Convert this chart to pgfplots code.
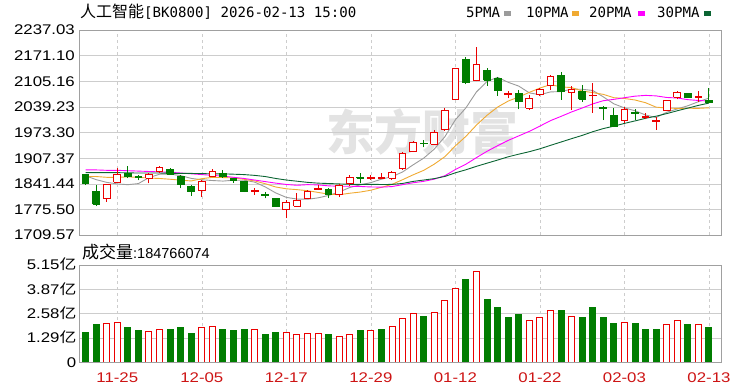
\documentclass[border=0pt]{standalone}
\usepackage{fontspec}
\usepackage{graphicx}
\usepackage{pgfplots}
\pgfplotsset{compat=1.18}
\setmainfont{Liberation Sans}
\newfontfamily\cjk{Noto Sans CJK SC}
\newfontfamily\mono{DejaVu Sans Mono}

\definecolor{kred}{RGB}{235,0,0}
\definecolor{kgreen}{RGB}{0,125,0}
\definecolor{ma5}{RGB}{155,155,155}
\definecolor{ma10}{RGB}{240,170,50}
\definecolor{ma20}{RGB}{255,0,255}
\definecolor{ma30}{RGB}{10,100,50}
\definecolor{gridc}{RGB}{205,205,205}
\definecolor{framec}{RGB}{160,160,160}
\definecolor{xlab}{RGB}{205,20,20}

\newcommand{\sx}[1]{\scalebox{1.2}[1]{#1}}

\pgfplotsset{kax/.style={
  scale only axis, anchor=south west, width=642bp,
  xmin=-0.625, xmax=60.14,
  xtick={3,11,19,27,35,43,51,59},
  xmajorgrids, ymajorgrids,
  major x grid style={gridc, dash pattern=on 3bp off 3bp},
  major y grid style={gridc},
  axis line style={framec},
  tick style={draw=none},
  ticklabel style={font=\fontsize{14bp}{14bp}\selectfont},
  yticklabel style={anchor=base east, inner sep=0pt, xshift=-4bp, yshift=-5bp},
  unbounded coords=jump,
}}

\begin{document}
\begin{tikzpicture}
\path[use as bounding box] (0,0) rectangle (750bp,391bp);

% watermark
\node[text=black!11, font=\cjk\bfseries\fontsize{48bp}{48bp}\selectfont, inner sep=0pt] at (422bp,259bp) {东方财富};

% title and legend
\node[anchor=base west, inner sep=0pt] at (80bp,373bp) {{\cjk\fontsize{16bp}{16bp}\selectfont 人工智能}{\mono\fontsize{14.1bp}{14bp}\selectfont [BK0800] 2026-02-13 15:00}};
\node[anchor=base west, inner sep=0pt, font=\mono\fontsize{14.1bp}{14bp}\selectfont] at (466bp,373bp) {5PMA};
\node[anchor=base west, inner sep=0pt] at (504bp,373bp) {\textcolor{ma5}{\rule[2bp]{7bp}{5bp}}};
\node[anchor=base west, inner sep=0pt, font=\mono\fontsize{14.1bp}{14bp}\selectfont] at (526bp,373bp) {10PMA};
\node[anchor=base west, inner sep=0pt] at (572bp,373bp) {\textcolor{ma10}{\rule[2bp]{7bp}{5bp}}};
\node[anchor=base west, inner sep=0pt, font=\mono\fontsize{14.1bp}{14bp}\selectfont] at (589bp,373bp) {20PMA};
\node[anchor=base west, inner sep=0pt] at (638bp,373bp) {\textcolor{ma20}{\rule[2bp]{7bp}{5bp}}};
\node[anchor=base west, inner sep=0pt, font=\mono\fontsize{14.1bp}{14bp}\selectfont] at (657bp,373bp) {30PMA};
\node[anchor=base west, inner sep=0pt] at (704bp,373bp) {\textcolor{ma30}{\rule[2bp]{7bp}{5bp}}};

\node[anchor=base west, inner sep=0pt] at (82bp,132bp) {{\cjk\fontsize{17bp}{17bp}\selectfont 成交量}{\fontsize{14.5bp}{14bp}\selectfont :184766074}};

% ---------------- price panel ----------------
\begin{axis}[kax, at={(79bp,156bp)}, height=205bp,
  ymin=1709.57, ymax=2237.03,
  ytick={1709.57,1775.50,1841.44,1907.37,1973.30,2039.23,2105.16,2171.10,2237.03},
  yticklabels={\sx{1709.57},\sx{1775.50},\sx{1841.44},\sx{1907.37},\sx{1973.30},\sx{2039.23},\sx{2105.16},\sx{2171.10},\sx{2237.03}},
  xticklabels={,,,,,,,},
]
% 5PMA
\addplot[ma5, line width=0.9bp, mark=none] coordinates {(0,1862)(1,1852)(2,1845)(3,1841)(4,1839)(5,1841.9)(6,1857.3)(7,1865.9)(8,1866.4)(9,1862.4)(10,1855.2)(11,1851.7)(12,1849.7)(13,1848.3)(14,1850.5)(15,1850.5)(16,1845.6)(17,1833.3)(18,1817.8)(19,1806.3)(20,1802.1)(21,1801.5)(22,1805.1)(23,1811.3)(24,1820.1)(25,1831.8)(26,1838.6)(27,1844.4)(28,1853.2)(29,1859.7)(30,1871.7)(31,1890.1)(32,1907.3)(33,1930.5)(34,1962.3)(35,2006)(36,2036.9)(37,2077.9)(38,2104.9)(39,2115.2)(40,2102.4)(41,2092.7)(42,2075.2)(43,2070.5)(44,2077.7)(45,2078.7)(46,2085)(47,2084.5)(48,2081.4)(49,2065)(50,2047)(51,2036.6)(52,2029.3)(53,2018.3)(54,2011.9)(55,2025.3)(56,2033.9)(57,2042.1)(58,2052.5)(59,2061.9)};
% 10PMA
\addplot[ma10, line width=0.9bp, mark=none] coordinates {(0,1860)(1,1860)(2,1858)(3,1858)(4,1859)(5,1858)(6,1856)(7,1855)(8,1853)(9,1850.7)(10,1848.6)(11,1854.5)(12,1857.8)(13,1857.4)(14,1856.5)(15,1852.9)(16,1848.7)(17,1841.5)(18,1833.1)(19,1828.4)(20,1826.3)(21,1823.6)(22,1819.2)(23,1814.6)(24,1813.2)(25,1817)(26,1820.1)(27,1824.8)(28,1832.3)(29,1839.9)(30,1851.8)(31,1864.4)(32,1875.9)(33,1891.9)(34,1911)(35,1938.9)(36,1963.5)(37,1992.6)(38,2017.7)(39,2038.8)(40,2054.2)(41,2064.8)(42,2076.6)(43,2087.7)(44,2096.5)(45,2090.6)(46,2088.9)(47,2079.9)(48,2076)(49,2071.4)(50,2062.9)(51,2060.8)(52,2056.9)(53,2049.9)(54,2038.5)(55,2036.2)(56,2035.3)(57,2035.7)(58,2035.4)(59,2036.9)};
% 20PMA
\addplot[ma20, line width=0.9bp, mark=none] coordinates {(0,1877)(1,1877)(2,1876)(3,1876)(4,1875)(5,1874)(6,1873)(7,1872)(8,1871)(9,1869)(10,1867)(11,1865)(12,1863)(13,1861)(14,1858)(15,1855)(16,1851)(17,1847)(18,1843)(19,1839.6)(20,1837.5)(21,1839.1)(22,1838.5)(23,1836)(24,1834.9)(25,1835)(26,1834.4)(27,1833.2)(28,1832.7)(29,1834.2)(30,1839.1)(31,1844)(32,1847.6)(33,1853.3)(34,1862.1)(35,1878)(36,1891.8)(37,1908.7)(38,1925)(39,1939.4)(40,1953)(41,1964.6)(42,1976.3)(43,1989.8)(44,2003.8)(45,2014.8)(46,2026.2)(47,2036.3)(48,2046.9)(49,2055.1)(50,2058.6)(51,2062.8)(52,2066.8)(53,2068.8)(54,2067.5)(55,2063.4)(56,2062.1)(57,2057.8)(58,2055.7)(59,2054.2)};
% 30PMA
\addplot[ma30, line width=0.9bp, mark=none] coordinates {(0,1870)(1,1870)(2,1870)(3,1870)(4,1869.5)(5,1869)(6,1869)(7,1869)(8,1868.5)(9,1868)(10,1868)(11,1867.5)(12,1867)(13,1867)(14,1866)(15,1865)(16,1863)(17,1860)(18,1855)(19,1851)(20,1848)(21,1845)(22,1843)(23,1842)(24,1841)(25,1840)(26,1840)(27,1840)(28,1839.5)(29,1839.7)(30,1842.2)(31,1847.5)(32,1851)(33,1854.6)(34,1860.2)(35,1869.6)(36,1877.4)(37,1886.3)(38,1894.4)(39,1902.4)(40,1910.8)(41,1917.6)(42,1923.9)(43,1931.4)(44,1940.2)(45,1948.8)(46,1957.5)(47,1965.8)(48,1975.3)(49,1983.4)(50,1989.6)(51,1996.7)(52,2003.1)(53,2009.8)(54,2015.3)(55,2021.9)(56,2029.2)(57,2036.1)(58,2043)(59,2049)};

% wicks (low to high) of rising candles
\addplot[kred, line width=1bp, mark=none] coordinates {(2,1795)(2,1841)(2,nan)(3,1843)(3,1881)(3,nan)(6,1842.6)(6,1870)(6,nan)(7,1868)(7,1888)(7,nan)(11,1808)(11,1851)(11,nan)(12,1858)(12,1878.6)(12,nan)(16,1813)(16,1830)(16,nan)(19,1752.5)(19,1799.6)(19,nan)(20,1783)(20,1818.4)(20,nan)(21,1802)(21,1825)(21,nan)(22,1825)(22,1838)(22,nan)(24,1807)(24,1840)(24,nan)(25,1836)(25,1864)(25,nan)(27,1852)(27,1864)(27,nan)(28,1855)(28,1870)(28,nan)(29,1851)(29,1875)(29,nan)(30,1877)(30,1923)(30,nan)(31,1923)(31,1951)(31,nan)(33,1941)(33,1980)(33,nan)(34,1977)(34,2036)(34,nan)(35,2057)(35,2139)(35,nan)(37,2105)(37,2194)(37,nan)(40,2061)(40,2081)(40,nan)(42,2031)(42,2069.8)(42,nan)(43,2067)(43,2088)(43,nan)(44,2083)(44,2121)(44,nan)(46,2031)(46,2093)(46,nan)(48,2024)(48,2100)(48,nan)(51,1997)(51,2039.7)(51,nan)(53,2007)(53,2023)(53,nan)(54,1980)(54,2014)(54,nan)(55,2031)(55,2056.6)(55,nan)(56,2058.7)(56,2081)(56,nan)(58,2052.6)(58,2079)};
% wicks of falling candles
\addplot[kgreen, line width=1bp, mark=none] coordinates {(0,1838)(0,1866)(0,nan)(1,1784)(1,1838)(1,nan)(4,1856)(4,1887)(4,nan)(5,1850)(5,1864)(5,nan)(8,1865)(8,1881)(8,nan)(9,1829.7)(9,1864)(9,nan)(10,1810)(10,1838)(10,nan)(13,1857)(13,1877)(13,nan)(14,1843)(14,1857)(14,nan)(15,1820)(15,1848)(15,nan)(17,1804)(17,1821)(17,nan)(18,1782)(18,1805)(18,nan)(23,1804)(23,1830)(23,nan)(26,1843)(26,1868)(26,nan)(32,1935)(32,1954)(32,nan)(36,2097)(36,2167)(36,nan)(38,2093)(38,2139)(38,nan)(39,2068)(39,2116)(39,nan)(41,2033)(41,2082.6)(41,nan)(45,2057)(45,2129.8)(45,nan)(47,2052.5)(47,2095.5)(47,nan)(49,2005)(49,2041)(49,nan)(50,1987)(50,2035.6)(50,nan)(52,2005)(52,2032.6)(52,nan)(57,2062)(57,2075)(57,nan)(59,2049)(59,2087)};

% bodies of rising candles (open at bottom, close at top), hollow
\addplot[draw=kred, fill=white, line width=1bp, mark=none] coordinates {
(1.68,1804)(2.32,1804)(2.32,1840)(1.68,1840)(1.68,1804)(2,nan)
(2.68,1845)(3.32,1845)(3.32,1864)(2.68,1864)(2.68,1845)(3,nan)
(5.68,1855.5)(6.32,1855.5)(6.32,1865.7)(5.68,1865.7)(5.68,1855.5)(6,nan)
(6.68,1872.5)(7.32,1872.5)(7.32,1882.7)(6.68,1882.7)(6.68,1872.5)(7,nan)
(10.68,1822.8)(11.32,1822.8)(11.32,1848.5)(10.68,1848.5)(10.68,1822.8)(11,nan)
(11.68,1859.6)(12.32,1859.6)(12.32,1872.5)(11.68,1872.5)(11.68,1859.6)(12,nan)
(15.68,1822)(16.32,1822)(16.32,1824)(15.68,1824)(15.68,1822)(16,nan)
(18.68,1774)(19.32,1774)(19.32,1793.7)(18.68,1793.7)(18.68,1774)(19,nan)
(19.68,1784)(20.32,1784)(20.32,1799.6)(19.68,1799.6)(19.68,1784)(20,nan)
(20.68,1804)(21.32,1804)(21.32,1821)(20.68,1821)(20.68,1804)(21,nan)
(21.68,1826)(22.32,1826)(22.32,1829)(21.68,1829)(21.68,1826)(22,nan)
(23.68,1812.5)(24.32,1812.5)(24.32,1838)(23.68,1838)(23.68,1812.5)(24,nan)
(24.68,1841)(25.32,1841)(25.32,1858)(24.68,1858)(24.68,1841)(25,nan)
(26.68,1855)(27.32,1855)(27.32,1858)(26.68,1858)(26.68,1855)(27,nan)
(27.68,1856)(28.32,1856)(28.32,1857)(27.68,1857)(27.68,1856)(28,nan)
(28.68,1855)(29.32,1855)(29.32,1870.7)(28.68,1870.7)(28.68,1855)(29,nan)
(29.68,1881)(30.32,1881)(30.32,1918)(29.68,1918)(29.68,1881)(30,nan)
(30.68,1924)(31.32,1924)(31.32,1947)(30.68,1947)(30.68,1924)(31,nan)
(32.68,1943.7)(33.32,1943.7)(33.32,1973)(32.68,1973)(32.68,1943.7)(33,nan)
(33.68,1980)(34.32,1980)(34.32,2029.5)(33.68,2029.5)(33.68,1980)(34,nan)
(34.68,2058.7)(35.32,2058.7)(35.32,2136.7)(34.68,2136.7)(34.68,2058.7)(35,nan)
(36.68,2106.6)(37.32,2106.6)(37.32,2148.8)(36.68,2148.8)(36.68,2106.6)(37,nan)
(39.68,2071)(40.32,2071)(40.32,2073)(39.68,2073)(39.68,2071)(40,nan)
(41.68,2035.6)(42.32,2035.6)(42.32,2061.3)(41.68,2061.3)(41.68,2035.6)(42,nan)
(42.68,2069.8)(43.32,2069.8)(43.32,2084.4)(42.68,2084.4)(42.68,2069.8)(43,nan)
(43.68,2093)(44.32,2093)(44.32,2117)(43.68,2117)(43.68,2093)(44,nan)
(45.68,2075.6)(46.32,2075.6)(46.32,2084.4)(45.68,2084.4)(45.68,2075.6)(46,nan)
(47.68,2068)(48.32,2068)(48.32,2069)(47.68,2069)(47.68,2068)(48,nan)
(50.68,2005)(51.32,2005)(51.32,2032.6)(50.68,2032.6)(50.68,2005)(51,nan)
(52.68,2012)(53.32,2012)(53.32,2014)(52.68,2014)(52.68,2012)(53,nan)
(53.68,2001)(54.32,2001)(54.32,2003)(53.68,2003)(53.68,2001)(54,nan)
(54.68,2031)(55.32,2031)(55.32,2055)(54.68,2055)(54.68,2031)(55,nan)
(55.68,2063.8)(56.32,2063.8)(56.32,2075.7)(55.68,2075.7)(55.68,2063.8)(56,nan)
(57.68,2064)(58.32,2064)(58.32,2066)(57.68,2066)(57.68,2064)
};
% bodies of falling candles (close at bottom, open at top), filled
\addplot[draw=kgreen, fill=kgreen, line width=1bp, mark=none] coordinates {
(-0.32,1842.5)(0.32,1842.5)(0.32,1864)(-0.32,1864)(-0.32,1842.5)(0,nan)
(0.68,1788.5)(1.32,1788.5)(1.32,1821)(0.68,1821)(0.68,1788.5)(1,nan)
(3.68,1860)(4.32,1860)(4.32,1868)(3.68,1868)(3.68,1860)(4,nan)
(4.68,1857)(5.32,1857)(5.32,1859)(4.68,1859)(4.68,1857)(5,nan)
(7.68,1866.5)(8.32,1866.5)(8.32,1878.6)(7.68,1878.6)(7.68,1866.5)(8,nan)
(8.68,1840)(9.32,1840)(9.32,1859.6)(8.68,1859.6)(8.68,1840)(9,nan)
(9.68,1821)(10.32,1821)(10.32,1835.6)(9.68,1835.6)(9.68,1821)(10,nan)
(12.68,1859.6)(13.32,1859.6)(13.32,1868.3)(12.68,1868.3)(12.68,1859.6)(13,nan)
(13.68,1851)(14.32,1851)(14.32,1855)(13.68,1855)(13.68,1851)(14,nan)
(14.68,1821)(15.32,1821)(15.32,1846.8)(14.68,1846.8)(14.68,1821)(15,nan)
(16.68,1811)(17.32,1811)(17.32,1813)(16.68,1813)(16.68,1811)(17,nan)
(17.68,1782)(18.32,1782)(18.32,1804)(17.68,1804)(17.68,1782)(18,nan)
(22.68,1813)(23.32,1813)(23.32,1827)(22.68,1827)(22.68,1813)(23,nan)
(25.68,1855)(26.32,1855)(26.32,1858)(25.68,1858)(25.68,1855)(26,nan)
(31.68,1944)(32.32,1944)(32.32,1946)(31.68,1946)(31.68,1944)(32,nan)
(35.68,2101.4)(36.32,2101.4)(36.32,2162.4)(35.68,2162.4)(35.68,2101.4)(36,nan)
(37.68,2108)(38.32,2108)(38.32,2134)(37.68,2134)(37.68,2108)(38,nan)
(38.68,2081)(39.32,2081)(39.32,2111)(38.68,2111)(38.68,2081)(39,nan)
(40.68,2052.6)(41.32,2052.6)(41.32,2074)(40.68,2074)(40.68,2052.6)(41,nan)
(44.68,2078)(45.32,2078)(45.32,2121)(44.68,2121)(44.68,2078)(45,nan)
(46.68,2058.6)(47.32,2058.6)(47.32,2080)(46.68,2080)(46.68,2058.6)(47,nan)
(48.68,2035)(49.32,2035)(49.32,2037)(48.68,2037)(48.68,2035)(49,nan)
(49.68,1988)(50.32,1988)(50.32,2018)(49.68,2018)(49.68,1988)(50,nan)
(51.68,2022)(52.32,2022)(52.32,2025)(51.68,2025)(51.68,2022)(52,nan)
(56.68,2063)(57.32,2063)(57.32,2074)(56.68,2074)(56.68,2063)(57,nan)
(58.68,2050)(59.32,2050)(59.32,2055)(58.68,2055)(58.68,2050)
};
\end{axis}

% ---------------- volume panel ----------------
\begin{axis}[kax, at={(79bp,29bp)}, height=97bp,
  ymin=0, ymax=5.15,
  ytick={0,1.2875,2.575,3.8625,5.15},
  yticklabels={\sx{0},\sx{1.29{\cjk 亿}},\sx{2.58{\cjk 亿}},\sx{3.87{\cjk 亿}},\sx{5.15{\cjk 亿}}},
  yticklabel style={xshift=1.5bp},
  xticklabels={\sx{11-25},\sx{12-05},\sx{12-17},\sx{12-29},\sx{01-12},\sx{01-22},\sx{02-03},\sx{02-13}},
  xticklabel style={text=xlab, anchor=north, inner sep=0pt, yshift=-10.5bp},
  bar width=6bp,
]
\addplot[ybar, bar shift=0pt, draw=kred, fill=white, line width=1bp] coordinates {(2,2.05)(3,2.12)(6,1.61)(7,1.75)(11,1.83)(12,1.89)(16,1.75)(19,1.59)(20,1.45)(21,1.52)(22,1.52)(24,1.38)(25,1.45)(27,1.68)(29,1.89)(30,2.33)(31,2.56)(33,2.65)(34,3.25)(35,3.90)(37,4.81)(42,2.20)(43,2.35)(44,2.72)(46,2.42)(51,2.12)(55,1.98)(56,2.20)(58,1.98)};
\addplot[ybar, bar shift=0pt, draw=kgreen, fill=kgreen, line width=1bp] coordinates {(0,1.59)(1,1.98)(4,1.82)(5,1.68)(8,1.75)(9,1.82)(10,1.53)(13,1.75)(14,1.68)(15,1.75)(17,1.45)(18,1.59)(23,1.45)(26,1.68)(28,1.75)(32,2.42)(36,4.37)(38,3.33)(39,2.88)(40,2.35)(41,2.50)(45,2.72)(47,2.35)(48,2.88)(49,2.35)(50,2.05)(52,2.05)(53,1.75)(54,1.75)(57,1.98)(59,1.85)};
\end{axis}
\end{tikzpicture}
\end{document}
